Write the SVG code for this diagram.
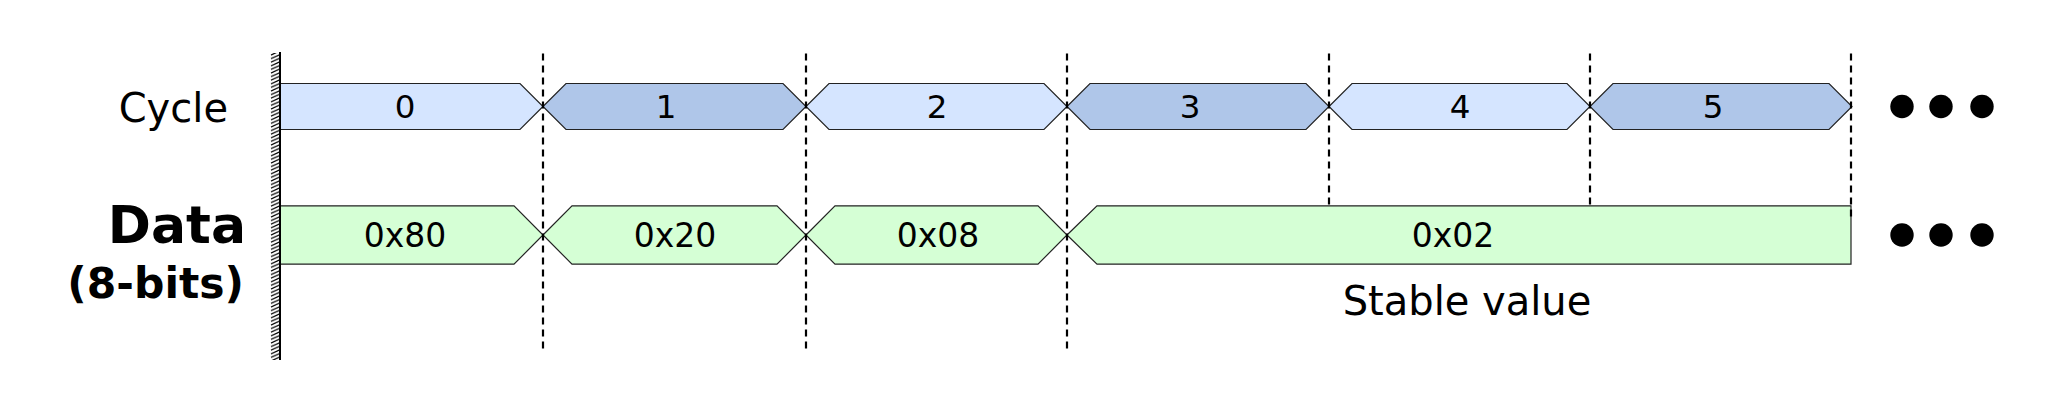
<svg xmlns="http://www.w3.org/2000/svg" width="2071" height="404" viewBox="0 0 2071 404">
<style>
  text { font-family: "DejaVu Sans", "Liberation Sans", sans-serif; fill: #000; }
  .lbl { font-size: 32.5px; text-anchor: middle; }
  .dlbl { font-size: 33px; text-anchor: middle; }
  .cl { fill: #d5e5ff; stroke: #222; stroke-width: 1.2; }
  .cd { fill: #afc6e9; stroke: #222; stroke-width: 1.2; }
  .dg { fill: #d5ffd5; stroke: #222; stroke-width: 1.2; }
  .dash { stroke: #000; stroke-width: 2.2; stroke-dasharray: 7 5; fill: none; }
  .dot { fill: #000; }
</style>
<defs>
  <pattern id="hatch" patternUnits="userSpaceOnUse" x="270" y="0" width="12" height="3.6">
    <path d="M1,4.6 L10,0.6 M1,8.2 L10,4.2 M1,1 L10,-3" stroke="#000" stroke-width="1.2" fill="none"/>
  </pattern>
</defs>
<rect width="2071" height="404" fill="#fff"/>

<g id="labels">
  <text x="228" y="122" font-size="40" text-anchor="end">Cycle</text>
  <text x="246" y="243" font-size="52" font-weight="bold" text-anchor="end">Data</text>
  <text x="244" y="298" font-size="42.5" font-weight="bold" text-anchor="end">(8-bits)</text>
</g>

<g id="cycle0"><polygon class="cl" points="280,83.5 520,83.5 543,106.5 520,129.5 280,129.5"/><text class="lbl" x="405" y="118">0</text></g>
<g id="cycle1"><polygon class="cd" points="543,106.5 566,83.5 783,83.5 806,106.5 783,129.5 566,129.5"/><text class="lbl" x="666" y="118">1</text></g>
<g id="cycle2"><polygon class="cl" points="806,106.5 829,83.5 1044,83.5 1067,106.5 1044,129.5 829,129.5"/><text class="lbl" x="937" y="118">2</text></g>
<g id="cycle3"><polygon class="cd" points="1067,106.5 1090,83.5 1306,83.5 1329,106.5 1306,129.5 1090,129.5"/><text class="lbl" x="1190" y="118">3</text></g>
<g id="cycle4"><polygon class="cl" points="1329,106.5 1352,83.5 1567,83.5 1590,106.5 1567,129.5 1352,129.5"/><text class="lbl" x="1460" y="118">4</text></g>
<g id="cycle5"><polygon class="cd" points="1590,106.5 1613,83.5 1829,83.5 1852,106.5 1829,129.5 1613,129.5"/><text class="lbl" x="1713" y="118">5</text></g>

<g id="data0"><polygon class="dg" points="280,205.8 514,205.8 543,235 514,264.2 280,264.2"/><text class="dlbl" x="405" y="246.5">0x80</text></g>
<g id="data1"><polygon class="dg" points="543,235 572,205.8 777,205.8 806,235 777,264.2 572,264.2"/><text class="dlbl" x="675" y="246.5">0x20</text></g>
<g id="data2"><polygon class="dg" points="806,235 835,205.8 1038,205.8 1067,235 1038,264.2 835,264.2"/><text class="dlbl" x="938" y="246.5">0x08</text></g>
<g id="data3"><polygon class="dg" points="1067,235 1097,205.8 1851,205.8 1851,264.2 1097,264.2"/><text class="dlbl" x="1453" y="246.5">0x02</text>
  <text x="1467" y="315" font-size="40" text-anchor="middle">Stable value</text></g>

<g id="wall">
  <rect x="270" y="53" width="10" height="307" fill="url(#hatch)"/>
  <line x1="280" y1="52" x2="280" y2="360" stroke="#000" stroke-width="2"/>
</g>

<g id="connectors">
  <line class="dash" x1="543" y1="53.5" x2="543" y2="349"/>
  <line class="dash" x1="806" y1="53.5" x2="806" y2="349"/>
  <line class="dash" x1="1067" y1="53.5" x2="1067" y2="349"/>
  <line class="dash" x1="1329" y1="53.5" x2="1329" y2="206"/>
  <line class="dash" x1="1590" y1="53.5" x2="1590" y2="206"/>
  <line class="dash" x1="1851" y1="53.5" x2="1851" y2="217"/>
</g>

<g id="ellipsis">
  <circle class="dot" cx="1902" cy="106.5" r="11.7"/>
  <circle class="dot" cx="1941" cy="106.5" r="11.7"/>
  <circle class="dot" cx="1982" cy="106.5" r="11.7"/>
  <circle class="dot" cx="1902" cy="235" r="11.7"/>
  <circle class="dot" cx="1941" cy="235" r="11.7"/>
  <circle class="dot" cx="1982" cy="235" r="11.7"/>
</g>
</svg>
